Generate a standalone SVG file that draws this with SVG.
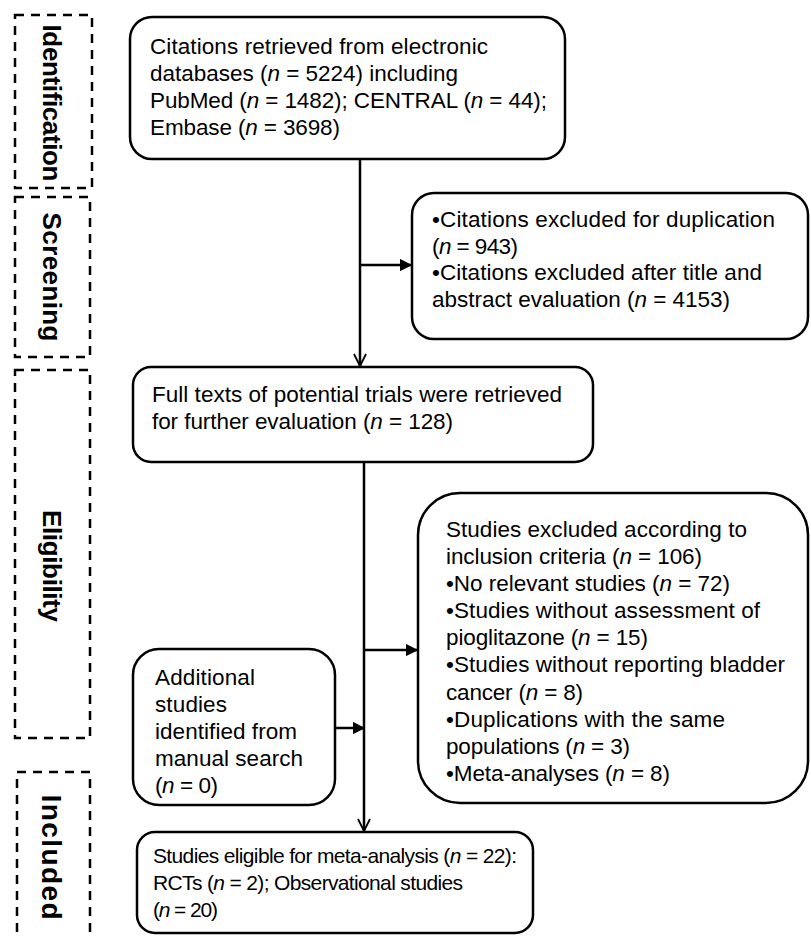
<svg xmlns="http://www.w3.org/2000/svg" width="811" height="937" viewBox="0 0 811 937">
<defs>
<style>
.box{fill:#fff;stroke:#000;stroke-width:2.5}
.phase{fill:none;stroke:#000;stroke-width:2.5;stroke-dasharray:9 7}
.ph{font-family:"Liberation Sans",Arial,sans-serif;font-size:26px;font-weight:bold;fill:#000;text-anchor:middle}
.t{font-family:"Liberation Sans",Arial,sans-serif;font-size:22.5px;fill:#000}
.s{font-size:21px}
.i{font-style:italic}
.ln{fill:none;stroke:#000;stroke-width:2.5}
</style>
<marker id="fa" viewBox="0 0 10 10" refX="9" refY="5" markerWidth="5" markerHeight="5" orient="auto" markerUnits="strokeWidth">
<path d="M0,0 L10,5 L0,10 z" fill="#000"/>
</marker>
<marker id="oa" viewBox="0 0 10 10" refX="9" refY="5" markerWidth="6" markerHeight="6" orient="auto" markerUnits="strokeWidth">
<path d="M1,1 L9,5 L1,9" fill="none" stroke="#000" stroke-width="1.2"/>
</marker>
</defs>
<rect width="811" height="937" fill="#fff"/>

<g id="phases">
<rect class="phase" x="15" y="15" width="77" height="173"/>
<text class="ph" transform="translate(52,103) rotate(90)" dy="9" textLength="157">Identification</text>
<rect class="phase" x="15" y="197" width="75" height="160"/>
<text class="ph" transform="translate(52,277) rotate(90)" dy="9" textLength="129">Screening</text>
<rect class="phase" x="15" y="370" width="75" height="368"/>
<text class="ph" transform="translate(52,566) rotate(90)" dy="9" textLength="112">Eligibility</text>
<rect class="phase" x="17" y="772" width="73" height="175"/>
<text class="ph" transform="translate(52,857) rotate(90)" dy="10" style="font-size:28px" textLength="125">Included</text>
</g>

<g id="connectors">
<line class="ln" x1="360" y1="159" x2="360" y2="366" marker-end="url(#oa)"/>
<line class="ln" x1="360" y1="265" x2="411" y2="265" marker-end="url(#fa)"/>
<line class="ln" x1="364" y1="462" x2="364" y2="831" marker-end="url(#oa)"/>
<line class="ln" x1="364" y1="650" x2="417" y2="650" marker-end="url(#fa)"/>
<line class="ln" x1="335" y1="728" x2="364" y2="728" marker-end="url(#fa)"/>
</g>

<g id="n1">
<rect class="box" x="130" y="17" width="435" height="142" rx="22"/>
<text class="t" x="150" y="54" textLength="338">Citations retrieved from electronic</text>
<text class="t" x="150" y="81" textLength="308">databases (<tspan class="i">n</tspan> = 5224) including</text>
<text class="t" x="150" y="108" textLength="397">PubMed (<tspan class="i">n</tspan> = 1482); CENTRAL (<tspan class="i">n</tspan> = 44);</text>
<text class="t" x="150" y="135" textLength="190">Embase (<tspan class="i">n</tspan> = 3698)</text>
</g>

<g id="n2">
<rect class="box" x="412" y="193" width="396" height="146" rx="22"/>
<text class="t" x="432" y="227" textLength="343">•Citations excluded for duplication</text>
<text class="t" x="432" y="254" textLength="86">(<tspan class="i">n</tspan> = 943)</text>
<text class="t" x="432" y="280" textLength="330">•Citations excluded after title and</text>
<text class="t" x="432" y="307" textLength="298">abstract evaluation (<tspan class="i">n</tspan> = 4153)</text>
</g>

<g id="n3">
<rect class="box" x="133" y="367" width="460" height="95" rx="18"/>
<text class="t" x="152" y="402" textLength="410">Full texts of potential trials were retrieved</text>
<text class="t" x="152" y="429" textLength="301">for further evaluation (<tspan class="i">n</tspan> = 128)</text>
</g>

<g id="n4">
<rect class="box" x="418" y="493" width="390" height="310" rx="42"/>
<text class="t" x="446" y="537" textLength="301">Studies excluded according to</text>
<text class="t" x="446" y="564" textLength="256">inclusion criteria (<tspan class="i">n</tspan> = 106)</text>
<text class="t" x="446" y="591" textLength="284">•No relevant studies (<tspan class="i">n</tspan> = 72)</text>
<text class="t" x="446" y="618" textLength="314">•Studies without assessment of</text>
<text class="t" x="446" y="645" textLength="202">pioglitazone (<tspan class="i">n</tspan> = 15)</text>
<text class="t" x="446" y="672" textLength="339">•Studies without reporting bladder</text>
<text class="t" x="446" y="700" textLength="137">cancer (<tspan class="i">n</tspan> = 8)</text>
<text class="t" x="446" y="727" textLength="279">•Duplications with the same</text>
<text class="t" x="446" y="754" textLength="184">populations (<tspan class="i">n</tspan> = 3)</text>
<text class="t" x="446" y="781" textLength="224">•Meta-analyses (<tspan class="i">n</tspan> = 8)</text>
</g>

<g id="n5">
<rect class="box" x="133" y="649" width="202" height="156" rx="26"/>
<text class="t" x="155" y="685" textLength="100">Additional</text>
<text class="t" x="155" y="712" textLength="72">studies</text>
<text class="t" x="155" y="739" textLength="142">identified from</text>
<text class="t" x="155" y="766" textLength="148">manual search</text>
<text class="t" x="155" y="793" textLength="63">(<tspan class="i">n</tspan> = 0)</text>
</g>

<g id="n6">
<rect class="box" x="137" y="832" width="396" height="101" rx="18"/>
<text class="t s" x="153" y="863" textLength="364">Studies eligible for meta-analysis (<tspan class="i">n</tspan> = 22):</text>
<text class="t s" x="153" y="890" textLength="310">RCTs (<tspan class="i">n</tspan> = 2); Observational studies</text>
<text class="t s" x="153" y="917" textLength="65">(<tspan class="i">n</tspan> = 20)</text>
</g>
</svg>
